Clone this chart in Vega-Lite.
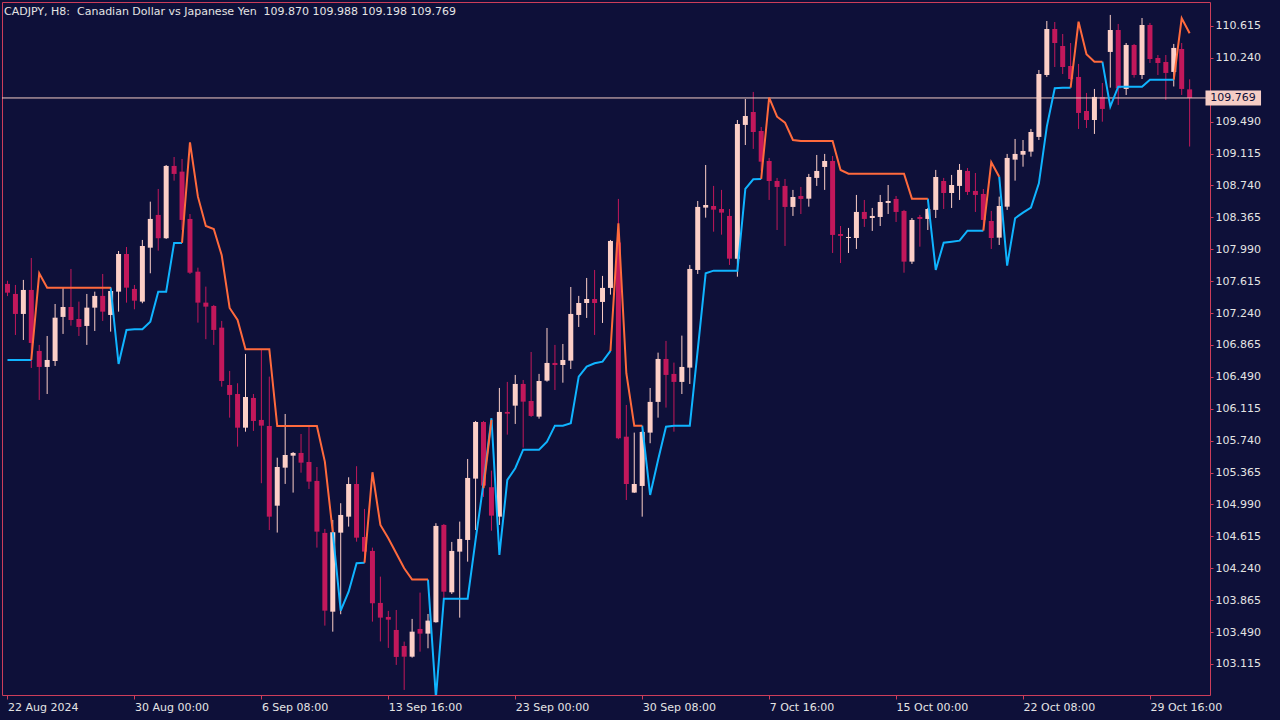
{
"$schema":"https://vega.github.io/schema/vega-lite/v6.json",
"width":1208,"height":693,
"autosize":{"type":"none"},
"padding":{"left":2,"top":2,"right":70,"bottom":25},
"background":"#0e1039",
"config":{"view":{"stroke":"#cc3d5a","strokeWidth":1},"axis":{"grid":false,"domain":false,"labelColor":"#e4e4e4","labelFont":"DejaVu Sans","labelFontSize":11,"tickColor":"#cc3d5a","title":null,"labelOverlap":false,"labelFlush":false}},
"title":{"text":"CADJPY, H8:\u00a0 Canadian Dollar vs Japanese Yen\u00a0 109.870 109.988 109.198 109.769","anchor":"start","frame":"group","offset":-15,"dx":2,"font":"DejaVu Sans","fontSize":11,"fontWeight":"normal","color":"#e4e4e4"},
"datasets":{"px":[{"p":109.769,"lab":"109.769"}]},
"data":{"values":[
{"i":0,"o":107.583,"h":107.62,"l":107.44,"c":107.48,"up":106.689,"dn":null},
{"i":1,"o":107.465,"h":107.571,"l":106.983,"c":107.23,"up":106.689,"dn":null},
{"i":2,"o":107.23,"h":107.63,"l":106.924,"c":107.512,"up":106.689,"dn":null},
{"i":3,"o":107.512,"h":107.888,"l":106.595,"c":106.889,"up":106.689,"dn":106.689},
{"i":4,"o":106.795,"h":106.866,"l":106.219,"c":106.607,"up":null,"dn":107.708},
{"i":5,"o":106.607,"h":106.971,"l":106.289,"c":106.689,"up":null,"dn":107.539},
{"i":6,"o":106.677,"h":107.347,"l":106.619,"c":107.186,"up":null,"dn":107.539},
{"i":7,"o":107.195,"h":107.536,"l":106.995,"c":107.312,"up":null,"dn":107.539},
{"i":8,"o":107.312,"h":107.759,"l":107.092,"c":107.159,"up":null,"dn":107.539},
{"i":9,"o":107.171,"h":107.375,"l":106.971,"c":107.077,"up":null,"dn":107.539},
{"i":10,"o":107.089,"h":107.465,"l":106.866,"c":107.304,"up":null,"dn":107.539},
{"i":11,"o":107.304,"h":107.492,"l":107.03,"c":107.442,"up":null,"dn":107.539},
{"i":12,"o":107.442,"h":107.7,"l":107.148,"c":107.257,"up":null,"dn":107.539},
{"i":13,"o":107.218,"h":107.547,"l":107.022,"c":107.5,"up":107.539,"dn":107.539},
{"i":14,"o":107.492,"h":107.97,"l":107.257,"c":107.935,"up":106.642,"dn":null},
{"i":15,"o":107.935,"h":108.017,"l":107.363,"c":107.539,"up":107.042,"dn":null},
{"i":16,"o":107.524,"h":107.571,"l":107.285,"c":107.386,"up":107.05,"dn":null},
{"i":17,"o":107.375,"h":108.1,"l":107.356,"c":108.029,"up":107.05,"dn":null},
{"i":18,"o":108.009,"h":108.55,"l":107.708,"c":108.347,"up":107.139,"dn":null},
{"i":19,"o":108.394,"h":108.699,"l":107.974,"c":108.12,"up":107.492,"dn":null},
{"i":20,"o":108.12,"h":108.981,"l":108.112,"c":108.97,"up":107.492,"dn":null},
{"i":21,"o":108.97,"h":109.075,"l":108.797,"c":108.876,"up":108.065,"dn":null},
{"i":22,"o":108.903,"h":109.052,"l":108.217,"c":108.335,"up":108.065,"dn":108.065},
{"i":23,"o":108.347,"h":108.405,"l":107.7,"c":107.715,"up":null,"dn":109.248},
{"i":24,"o":107.727,"h":107.774,"l":107.128,"c":107.363,"up":null,"dn":108.609},
{"i":25,"o":107.363,"h":107.551,"l":106.933,"c":107.316,"up":null,"dn":108.264},
{"i":26,"o":107.324,"h":107.336,"l":106.866,"c":107.042,"up":null,"dn":108.229},
{"i":27,"o":107.069,"h":107.148,"l":106.375,"c":106.442,"up":null,"dn":107.92},
{"i":28,"o":106.395,"h":106.56,"l":106.011,"c":106.278,"up":null,"dn":107.3},
{"i":29,"o":106.289,"h":106.415,"l":105.67,"c":105.893,"up":null,"dn":107.159},
{"i":30,"o":105.893,"h":106.76,"l":105.846,"c":106.254,"up":null,"dn":106.815},
{"i":31,"o":106.243,"h":106.289,"l":105.855,"c":105.972,"up":null,"dn":106.815},
{"i":32,"o":105.984,"h":106.807,"l":105.24,"c":105.917,"up":null,"dn":106.815},
{"i":33,"o":105.913,"h":106.493,"l":104.69,"c":104.847,"up":null,"dn":106.815},
{"i":34,"o":104.976,"h":105.54,"l":104.66,"c":105.431,"up":null,"dn":105.913},
{"i":35,"o":105.423,"h":106.054,"l":105.232,"c":105.572,"up":null,"dn":105.913},
{"i":36,"o":105.564,"h":105.607,"l":105.13,"c":105.596,"up":null,"dn":105.913},
{"i":37,"o":105.596,"h":105.819,"l":105.364,"c":105.482,"up":null,"dn":105.913},
{"i":38,"o":105.49,"h":105.905,"l":105.173,"c":105.259,"up":null,"dn":105.913},
{"i":39,"o":105.267,"h":105.431,"l":104.483,"c":104.671,"up":null,"dn":105.913},
{"i":40,"o":104.656,"h":104.703,"l":103.566,"c":103.742,"up":null,"dn":105.494},
{"i":41,"o":103.73,"h":104.808,"l":103.495,"c":104.664,"up":104.664,"dn":104.664},
{"i":42,"o":104.659,"h":105.005,"l":103.7,"c":104.867,"up":103.742,"dn":null},
{"i":43,"o":104.847,"h":105.31,"l":104.73,"c":105.231,"up":103.965,"dn":null},
{"i":44,"o":105.231,"h":105.44,"l":104.553,"c":104.6,"up":104.3,"dn":null},
{"i":45,"o":104.608,"h":104.938,"l":104.299,"c":104.436,"up":104.306,"dn":104.306},
{"i":46,"o":104.444,"h":104.483,"l":103.613,"c":103.829,"up":null,"dn":105.369},
{"i":47,"o":103.833,"h":104.142,"l":103.38,"c":103.66,"up":null,"dn":104.75},
{"i":48,"o":103.668,"h":103.739,"l":103.304,"c":103.636,"up":null,"dn":104.593},
{"i":49,"o":103.515,"h":103.75,"l":103.104,"c":103.198,"up":null,"dn":104.417},
{"i":50,"o":103.327,"h":103.378,"l":102.81,"c":103.201,"up":null,"dn":104.241},
{"i":51,"o":103.201,"h":103.645,"l":103.19,"c":103.495,"up":null,"dn":104.107},
{"i":52,"o":103.527,"h":103.954,"l":103.26,"c":103.472,"up":null,"dn":104.107},
{"i":53,"o":103.472,"h":103.703,"l":103.3,"c":103.625,"up":104.107,"dn":104.107},
{"i":54,"o":103.606,"h":104.77,"l":103.601,"c":104.738,"up":102.72,"dn":null},
{"i":55,"o":104.75,"h":104.761,"l":103.883,"c":103.965,"up":103.883,"dn":null},
{"i":56,"o":103.958,"h":104.55,"l":103.938,"c":104.444,"up":103.883,"dn":null},
{"i":57,"o":104.436,"h":104.789,"l":103.66,"c":104.585,"up":103.883,"dn":null},
{"i":58,"o":104.573,"h":105.525,"l":104.318,"c":105.302,"up":103.883,"dn":null},
{"i":59,"o":105.294,"h":105.972,"l":104.69,"c":105.96,"up":104.573,"dn":null},
{"i":60,"o":105.96,"h":105.972,"l":105.079,"c":105.212,"up":105.24,"dn":105.181},
{"i":61,"o":105.193,"h":105.388,"l":104.682,"c":104.859,"up":106.004,"dn":105.984},
{"i":62,"o":104.847,"h":106.36,"l":104.75,"c":106.078,"up":104.397,"dn":null},
{"i":63,"o":106.078,"h":106.431,"l":105.811,"c":106.058,"up":105.279,"dn":null},
{"i":64,"o":106.152,"h":106.513,"l":105.937,"c":106.407,"up":105.416,"dn":null},
{"i":65,"o":106.407,"h":106.454,"l":105.658,"c":106.199,"up":105.635,"dn":null},
{"i":66,"o":106.207,"h":106.783,"l":106.019,"c":106.031,"up":105.635,"dn":null},
{"i":67,"o":106.023,"h":106.525,"l":105.999,"c":106.442,"up":105.635,"dn":null},
{"i":68,"o":106.446,"h":107.065,"l":106.434,"c":106.654,"up":105.729,"dn":null},
{"i":69,"o":106.654,"h":106.866,"l":106.336,"c":106.63,"up":105.917,"dn":null},
{"i":70,"o":106.63,"h":106.877,"l":106.422,"c":106.689,"up":105.917,"dn":null},
{"i":71,"o":106.681,"h":107.547,"l":106.583,"c":107.23,"up":105.945,"dn":null},
{"i":72,"o":107.218,"h":107.442,"l":107.077,"c":107.359,"up":106.493,"dn":null},
{"i":73,"o":107.359,"h":107.653,"l":107.183,"c":107.406,"up":106.611,"dn":null},
{"i":74,"o":107.406,"h":107.747,"l":106.983,"c":107.359,"up":106.65,"dn":null},
{"i":75,"o":107.371,"h":107.677,"l":107.124,"c":107.536,"up":106.669,"dn":null},
{"i":76,"o":107.536,"h":108.1,"l":107.457,"c":108.088,"up":106.795,"dn":106.795},
{"i":77,"o":108.07,"h":108.582,"l":105.757,"c":105.769,"up":null,"dn":108.296},
{"i":78,"o":105.787,"h":106.16,"l":105.043,"c":105.231,"up":null,"dn":106.533},
{"i":79,"o":105.13,"h":105.835,"l":105.126,"c":105.231,"up":null,"dn":105.917},
{"i":80,"o":105.208,"h":105.855,"l":104.847,"c":105.843,"up":105.917,"dn":105.917},
{"i":81,"o":105.835,"h":106.36,"l":105.71,"c":106.196,"up":105.102,"dn":null},
{"i":82,"o":106.196,"h":106.775,"l":106.011,"c":106.701,"up":105.514,"dn":null},
{"i":83,"o":106.701,"h":106.913,"l":106.129,"c":106.513,"up":105.905,"dn":null},
{"i":84,"o":106.525,"h":106.658,"l":105.846,"c":106.431,"up":105.917,"dn":null},
{"i":85,"o":106.431,"h":106.975,"l":106.289,"c":106.607,"up":105.917,"dn":null},
{"i":86,"o":106.599,"h":107.806,"l":106.407,"c":107.759,"up":105.917,"dn":null},
{"i":87,"o":107.747,"h":108.558,"l":107.7,"c":108.488,"up":106.807,"dn":null},
{"i":88,"o":108.48,"h":108.981,"l":108.362,"c":108.511,"up":107.708,"dn":null},
{"i":89,"o":108.499,"h":108.735,"l":108.197,"c":108.456,"up":107.739,"dn":null},
{"i":90,"o":108.464,"h":108.688,"l":108.162,"c":108.421,"up":107.739,"dn":null},
{"i":91,"o":108.382,"h":108.464,"l":107.806,"c":107.88,"up":107.739,"dn":null},
{"i":92,"o":107.88,"h":109.51,"l":107.668,"c":109.463,"up":107.739,"dn":null},
{"i":93,"o":109.452,"h":109.757,"l":109.216,"c":109.557,"up":108.699,"dn":null},
{"i":94,"o":109.604,"h":109.84,"l":109.17,"c":109.369,"up":108.813,"dn":null},
{"i":95,"o":109.381,"h":109.428,"l":108.911,"c":109.02,"up":108.817,"dn":108.817},
{"i":96,"o":109.028,"h":109.064,"l":108.57,"c":108.793,"up":null,"dn":109.773},
{"i":97,"o":108.793,"h":108.829,"l":108.217,"c":108.723,"up":null,"dn":109.549},
{"i":98,"o":108.735,"h":108.817,"l":108.029,"c":108.488,"up":null,"dn":109.479},
{"i":99,"o":108.488,"h":108.688,"l":108.382,"c":108.605,"up":null,"dn":109.275},
{"i":100,"o":108.617,"h":108.723,"l":108.405,"c":108.582,"up":null,"dn":109.264},
{"i":101,"o":108.585,"h":108.876,"l":108.491,"c":108.84,"up":null,"dn":109.264},
{"i":102,"o":108.829,"h":109.099,"l":108.735,"c":108.911,"up":null,"dn":109.264},
{"i":103,"o":108.958,"h":109.111,"l":108.688,"c":109.028,"up":null,"dn":109.264},
{"i":104,"o":109.028,"h":109.087,"l":107.947,"c":108.159,"up":null,"dn":109.264},
{"i":105,"o":108.17,"h":108.264,"l":107.829,"c":108.147,"up":null,"dn":108.923},
{"i":106,"o":108.123,"h":108.241,"l":107.947,"c":108.135,"up":null,"dn":108.879},
{"i":107,"o":108.123,"h":108.629,"l":107.994,"c":108.429,"up":null,"dn":108.879},
{"i":108,"o":108.429,"h":108.57,"l":108.253,"c":108.347,"up":null,"dn":108.879},
{"i":109,"o":108.358,"h":108.476,"l":108.206,"c":108.382,"up":null,"dn":108.879},
{"i":110,"o":108.37,"h":108.629,"l":108.264,"c":108.546,"up":null,"dn":108.879},
{"i":111,"o":108.535,"h":108.746,"l":108.405,"c":108.558,"up":null,"dn":108.879},
{"i":112,"o":108.582,"h":108.617,"l":108.311,"c":108.429,"up":null,"dn":108.879},
{"i":113,"o":108.441,"h":108.453,"l":107.715,"c":107.845,"up":null,"dn":108.879},
{"i":114,"o":107.845,"h":108.358,"l":107.818,"c":108.335,"up":null,"dn":108.585},
{"i":115,"o":108.37,"h":108.394,"l":108.021,"c":108.347,"up":null,"dn":108.585},
{"i":116,"o":108.347,"h":108.476,"l":108.217,"c":108.464,"up":108.585,"dn":108.585},
{"i":117,"o":108.453,"h":108.923,"l":108.358,"c":108.84,"up":107.747,"dn":null},
{"i":118,"o":108.793,"h":108.829,"l":108.464,"c":108.652,"up":108.068,"dn":null},
{"i":119,"o":108.652,"h":108.864,"l":108.476,"c":108.746,"up":108.08,"dn":null},
{"i":120,"o":108.735,"h":108.993,"l":108.57,"c":108.923,"up":108.092,"dn":null},
{"i":121,"o":108.911,"h":108.946,"l":108.629,"c":108.664,"up":108.209,"dn":null},
{"i":122,"o":108.676,"h":108.887,"l":108.429,"c":108.629,"up":108.209,"dn":null},
{"i":123,"o":108.64,"h":108.699,"l":108.217,"c":108.335,"up":108.209,"dn":108.209},
{"i":124,"o":108.323,"h":108.441,"l":107.994,"c":108.123,"up":null,"dn":109.013},
{"i":125,"o":108.127,"h":108.609,"l":108.041,"c":108.499,"up":108.844,"dn":108.844},
{"i":126,"o":108.491,"h":109.111,"l":108.453,"c":109.064,"up":107.798,"dn":null},
{"i":127,"o":109.044,"h":109.287,"l":108.797,"c":109.111,"up":108.355,"dn":null},
{"i":128,"o":109.102,"h":109.275,"l":108.961,"c":109.146,"up":108.421,"dn":null},
{"i":129,"o":109.138,"h":109.405,"l":109.079,"c":109.369,"up":108.48,"dn":null},
{"i":130,"o":109.311,"h":110.098,"l":109.275,"c":110.051,"up":108.766,"dn":null},
{"i":131,"o":110.039,"h":110.674,"l":110.016,"c":110.58,"up":109.432,"dn":null},
{"i":132,"o":110.58,"h":110.662,"l":110.133,"c":110.415,"up":109.883,"dn":null},
{"i":133,"o":110.38,"h":110.521,"l":110.051,"c":110.133,"up":109.89,"dn":null},
{"i":134,"o":110.145,"h":110.415,"l":109.981,"c":109.992,"up":109.89,"dn":109.89},
{"i":135,"o":110.016,"h":110.169,"l":109.405,"c":109.593,"up":null,"dn":110.666},
{"i":136,"o":109.616,"h":109.828,"l":109.416,"c":109.51,"up":null,"dn":110.283},
{"i":137,"o":109.51,"h":109.875,"l":109.346,"c":109.781,"up":null,"dn":110.196},
{"i":138,"o":109.781,"h":109.945,"l":109.49,"c":109.64,"up":110.196,"dn":110.196},
{"i":139,"o":110.31,"h":110.745,"l":109.89,"c":110.568,"up":109.667,"dn":null},
{"i":140,"o":110.568,"h":110.639,"l":109.687,"c":109.883,"up":109.902,"dn":null},
{"i":141,"o":109.875,"h":110.415,"l":109.804,"c":110.392,"up":109.902,"dn":null},
{"i":142,"o":110.392,"h":110.404,"l":110.008,"c":110.039,"up":109.902,"dn":null},
{"i":143,"o":110.039,"h":110.709,"l":109.992,"c":110.627,"up":109.902,"dn":null},
{"i":144,"o":110.627,"h":110.651,"l":110.18,"c":110.227,"up":109.984,"dn":null},
{"i":145,"o":110.239,"h":110.274,"l":110.039,"c":110.18,"up":109.984,"dn":null},
{"i":146,"o":110.192,"h":110.274,"l":109.746,"c":110.063,"up":109.984,"dn":null},
{"i":147,"o":110.075,"h":110.404,"l":109.904,"c":110.357,"up":109.984,"dn":109.984},
{"i":148,"o":110.345,"h":110.415,"l":109.804,"c":109.875,"up":null,"dn":110.706},
{"i":149,"o":109.87,"h":109.988,"l":109.198,"c":109.769,"up":null,"dn":110.53}
]},
"encoding":{"x":{"field":"i","type":"quantitative","scale":{"domain":[-0.0625,150.9375],"nice":false,"zero":false},
"axis":{"orient":"bottom","values":[0,16,32,48,64,80,96,112,128,144],"labelExpr":"['22 Aug 2024','30 Aug 00:00','6 Sep 08:00','13 Sep 16:00','23 Sep 00:00','30 Sep 08:00','7 Oct 16:00','15 Oct 00:00','22 Oct 08:00','29 Oct 16:00'][round(datum.value/16)]","labelAlign":"left","labelBaseline":"top","tickSize":4,"labelPadding":2,"labelOverlap":false}}},
"layer":[
{"mark":{"type":"rule","strokeWidth":1},
 "encoding":{"y":{"field":"l","type":"quantitative","scale":{"domain":[102.7505,110.8971],"nice":false,"zero":false},"axis":{"orient":"right","values":[103.115,103.49,103.865,104.24,104.615,104.99,105.365,105.74,106.115,106.49,106.865,107.24,107.615,107.99,108.365,108.74,109.115,109.49,110.24,110.615],"format":".3f","labelAlign":"left","labelBaseline":"middle","tickSize":3,"labelPadding":2,"labelOverlap":false,"labelBound":false}},
  "y2":{"field":"h"},
  "color":{"condition":{"test":"datum.c >= datum.o","value":"#fccfc7"},"value":"#c2185b"}}},
{"mark":{"type":"bar","size":5},
 "encoding":{"y":{"field":"o","type":"quantitative","scale":{"domain":[102.7505,110.8971],"nice":false,"zero":false},"axis":{"orient":"right","values":[103.115,103.49,103.865,104.24,104.615,104.99,105.365,105.74,106.115,106.49,106.865,107.24,107.615,107.99,108.365,108.74,109.115,109.49,110.24,110.615],"format":".3f","labelAlign":"left","labelBaseline":"middle","tickSize":3,"labelPadding":2,"labelOverlap":false,"labelBound":false}},
  "y2":{"field":"c"},
  "color":{"condition":{"test":"datum.c >= datum.o","value":"#fccfc7"},"value":"#c2185b"}}},
{"data":{"name":"px"},
 "mark":{"type":"rule","color":"#f5cdc5","strokeWidth":1},
 "encoding":{"x":null,"y":{"field":"p","type":"quantitative","scale":{"domain":[102.7505,110.8971],"nice":false,"zero":false},"axis":{"orient":"right","values":[103.115,103.49,103.865,104.24,104.615,104.99,105.365,105.74,106.115,106.49,106.865,107.24,107.615,107.99,108.365,108.74,109.115,109.49,110.24,110.615],"format":".3f","labelAlign":"left","labelBaseline":"middle","tickSize":3,"labelPadding":2,"labelOverlap":false,"labelBound":false}}}},
{"mark":{"type":"line","color":"#10b4ff","strokeWidth":2,"clip":true,"invalid":"break-paths-show-domains"},
 "encoding":{"y":{"field":"up","type":"quantitative","scale":{"domain":[102.7505,110.8971],"nice":false,"zero":false},"axis":{"orient":"right","values":[103.115,103.49,103.865,104.24,104.615,104.99,105.365,105.74,106.115,106.49,106.865,107.24,107.615,107.99,108.365,108.74,109.115,109.49,110.24,110.615],"format":".3f","labelAlign":"left","labelBaseline":"middle","tickSize":3,"labelPadding":2,"labelOverlap":false,"labelBound":false}}}},
{"mark":{"type":"line","color":"#ff6a3d","strokeWidth":2,"clip":true,"invalid":"break-paths-show-domains"},
 "encoding":{"y":{"field":"dn","type":"quantitative","scale":{"domain":[102.7505,110.8971],"nice":false,"zero":false},"axis":{"orient":"right","values":[103.115,103.49,103.865,104.24,104.615,104.99,105.365,105.74,106.115,106.49,106.865,107.24,107.615,107.99,108.365,108.74,109.115,109.49,110.24,110.615],"format":".3f","labelAlign":"left","labelBaseline":"middle","tickSize":3,"labelPadding":2,"labelOverlap":false,"labelBound":false}}}},
{"data":{"name":"px"},
 "mark":{"type":"rule","color":"#f5cdc5","strokeWidth":15,"strokeCap":"butt"},
 "encoding":{"x":{"value":{"expr":"scale('x', 151)"}},"x2":{"value":{"expr":"scale('x', 158)"}},
  "y":{"field":"p","type":"quantitative","scale":{"domain":[102.7505,110.8971],"nice":false,"zero":false},"axis":{"orient":"right","values":[103.115,103.49,103.865,104.24,104.615,104.99,105.365,105.74,106.115,106.49,106.865,107.24,107.615,107.99,108.365,108.74,109.115,109.49,110.24,110.615],"format":".3f","labelAlign":"left","labelBaseline":"middle","tickSize":3,"labelPadding":2,"labelOverlap":false,"labelBound":false}}}},
{"data":{"name":"px"},
 "mark":{"type":"text","color":"#0e1039","align":"left","baseline":"middle","font":"DejaVu Sans","fontSize":11},
 "encoding":{"x":{"value":{"expr":"scale('x', 151.6)"}},"y":{"field":"p","type":"quantitative","scale":{"domain":[102.7505,110.8971],"nice":false,"zero":false},"axis":{"orient":"right","values":[103.115,103.49,103.865,104.24,104.615,104.99,105.365,105.74,106.115,106.49,106.865,107.24,107.615,107.99,108.365,108.74,109.115,109.49,110.24,110.615],"format":".3f","labelAlign":"left","labelBaseline":"middle","tickSize":3,"labelPadding":2,"labelOverlap":false,"labelBound":false}},"text":{"field":"lab"}}}
]
}
